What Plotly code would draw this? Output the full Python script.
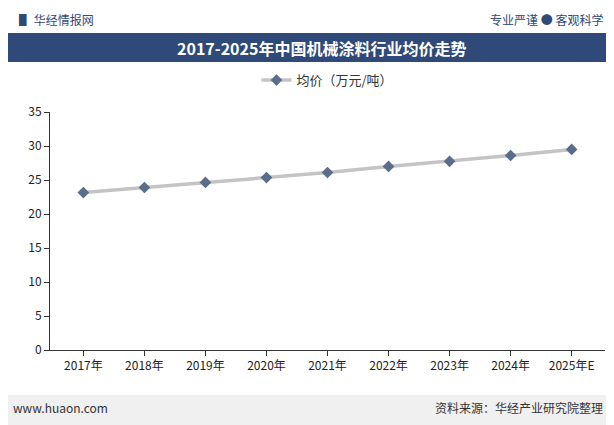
import plotly.graph_objects as go

years = ["2017年","2018年","2019年","2020年","2021年","2022年","2023年","2024年","2025年E"]
prices = [23.15, 23.9, 24.65, 25.35, 26.1, 27.0, 27.75, 28.6, 29.5]

fig = go.Figure()
fig.add_trace(go.Scatter(x=years, y=prices, mode="lines+markers", name="均价（万元/吨）",
    line=dict(color="#c4c4c4", width=3.5),
    marker=dict(symbol="diamond", size=9, color="#5b6d8c")))

font = "Noto Sans CJK SC"
fig.update_layout(
    width=606, height=417, paper_bgcolor="white", plot_bgcolor="white",
    margin=dict(l=42, r=9, t=104, b=75, autoexpand=False),
    font=dict(family=font, size=12, color="#333"),
    showlegend=True,
    legend=dict(orientation="h", x=0.5, xanchor="center", y=1.134, yanchor="middle",
                bgcolor="rgba(0,0,0,0)", font=dict(size=13, color="#333")),
    xaxis=dict(showline=True, linecolor="#333", ticks="outside", tickcolor="#333",
               ticklen=5, showgrid=False, tickfont=dict(size=12, color="#222")),
    yaxis=dict(range=[0,35], dtick=5, showline=True, linecolor="#333", ticks="outside",
               tickcolor="#333", ticklen=5, showgrid=False, zeroline=False,
               tickfont=dict(size=12, color="#222")),
    shapes=[
        dict(type="rect", xref="paper", yref="paper", x0=-0.1, x1=1.1, y0=1.21, y1=1.332,
             fillcolor="#2f4a78", line_width=0, layer="below"),
        dict(type="rect", xref="paper", yref="paper", x0=-0.1, x1=1.1, y0=-0.35, y1=-0.189,
             fillcolor="#f0f0f0", line_width=0, layer="below"),
    ],
    annotations=[
        dict(text="<b>2017-2025年中国机械涂料行业均价走势</b>", xref="paper", yref="paper",
             x=0.49, y=1.271, yanchor="middle", showarrow=False,
             font=dict(size=16, color="white", family=font)),
        dict(text="<b>▋</b> 华经情报网", xref="paper", yref="paper", x=-0.06, y=1.39,
             xanchor="left", yanchor="middle", showarrow=False, font=dict(size=12, color="#2f4a78")),
        dict(text="专业严谨 ● 客观科学", xref="paper", yref="paper", x=1.0, y=1.39,
             xanchor="right", yanchor="middle", showarrow=False, font=dict(size=12, color="#2f4a78")),
        dict(text="www.huaon.com", xref="paper", yref="paper", x=-0.07, y=-0.24,
             xanchor="left", yanchor="middle", showarrow=False, font=dict(size=12, color="#333")),
        dict(text="资料来源：华经产业研究院整理", xref="paper", yref="paper", x=1.0, y=-0.24,
             xanchor="right", yanchor="middle", showarrow=False, font=dict(size=12, color="#333")),
    ],
)
fig.write_html("out.html")
